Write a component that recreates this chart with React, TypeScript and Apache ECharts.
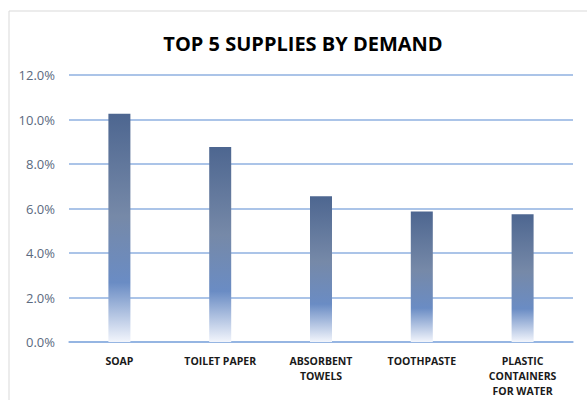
import React, { useEffect, useRef } from "react";
import * as echarts from "echarts";

const titleText = "TOP 5 SUPPLIES BY DEMAND";
const categories = [
  "SOAP",
  "TOILET PAPER",
  "ABSORBENT\nTOWELS",
  "TOOTHPASTE",
  "PLASTIC\nCONTAINERS\nFOR WATER",
];
const demandPct = [10.26, 8.76, 6.55, 5.87, 5.74];
const yMin = 0;
const yMax = 12;
const yStep = 2;

export default function App() {
  const ref = useRef<HTMLDivElement>(null);
  useEffect(() => {
    if (!ref.current) return;
    const chart = echarts.init(ref.current, null, { renderer: "svg" });
    const barGradient = new echarts.graphic.LinearGradient(0, 0, 0, 1, [
      { offset: 0, color: "#4d6690" },
      { offset: 0.45, color: "#7689a8" },
      { offset: 0.74, color: "#6a8cc4" },
      { offset: 1, color: "#f2f5fc" },
    ]);
    chart.setOption({
      animation: false,
      backgroundColor: "#ffffff",
      graphic: [
        {
          type: "rect",
          shape: { x: 9, y: 11, width: 600, height: 420 },
          style: { fill: "none", stroke: "#d9d9d9", lineWidth: 1 },
          z: -10,
        },
      ],
      title: {
        text: titleText,
        left: 298,
        top: 28,
        textAlign: "center",
        textStyle: {
          fontFamily: "Open Sans",
          fontWeight: "bold",
          fontSize: 20,
          color: "#000000",
        },
      },
      grid: {
        left: 69,
        right: 14,
        top: 75,
        bottom: 58,
        outerBoundsMode: "none",
        containLabel: false,
      },
      xAxis: {
        type: "category",
        data: categories,
        axisLine: { show: true, lineStyle: { color: "#8fb0e0", width: 1.5 } },
        axisTick: { show: false },
        axisLabel: {
          margin: 11,
          fontFamily: "Open Sans",
          fontWeight: "bold",
          fontSize: 10.5,
          lineHeight: 15,
          color: "#1a1a1a",
          interval: 0,
        },
      },
      yAxis: {
        type: "value",
        min: yMin,
        max: yMax,
        interval: yStep,
        axisLine: { show: false },
        axisTick: { show: false },
        splitLine: { lineStyle: { color: "#8fb0e0", width: 1.5 } },
        axisLabel: {
          margin: 14,
          fontFamily: "Open Sans",
          fontSize: 13,
          color: "#5b6a80",
          formatter: (v: number) => v.toFixed(1) + "%",
        },
      },
      series: [
        {
          type: "bar",
          data: demandPct,
          barWidth: 22,
          itemStyle: { color: barGradient },
        },
      ],
    });
    return () => chart.dispose();
  }, []);
  return (
    <div
      ref={ref}
      style={{ position: "absolute", left: 0, top: 0, width: 587, height: 400 }}
    />
  );
}
